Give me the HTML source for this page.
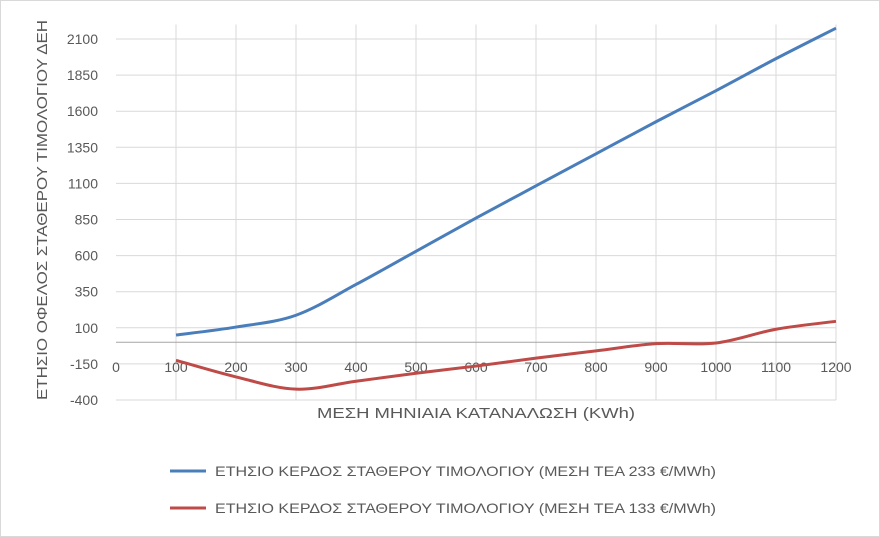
<!DOCTYPE html>
<html><head><meta charset="utf-8"><style>
body{margin:0;background:#fff}
svg{display:block;font-family:"Liberation Sans",sans-serif}
</style></head><body>
<svg id="chart" width="880" height="537">
<rect x="0.5" y="0.5" width="879" height="536" fill="#fff" stroke="#d9d9d9"/>
<g id="grid"></g><g id="axes"></g><g id="series"></g>
<text x="476" y="418" font-size="15" fill="#595959" text-anchor="middle" textLength="318" lengthAdjust="spacingAndGlyphs">ΜΕΣΗ ΜΗΝΙΑΙΑ ΚΑΤΑΝΑΛΩΣΗ (KWh)</text>
<text transform="translate(47,210) rotate(-90)" font-size="15" fill="#595959" text-anchor="middle" textLength="380" lengthAdjust="spacingAndGlyphs">ΕΤΗΣΙΟ ΟΦΕΛΟΣ ΣΤΑΘΕΡΟΥ ΤΙΜΟΛΟΓΙΟΥ ΔΕΗ</text>
<g>
<line x1="170" y1="471" x2="206" y2="471" stroke="#4a7ebb" stroke-width="3"/>
<text x="215" y="476" font-size="14" fill="#595959" textLength="501" lengthAdjust="spacingAndGlyphs">ΕΤΗΣΙΟ ΚΕΡΔΟΣ ΣΤΑΘΕΡΟΥ ΤΙΜΟΛΟΓΙΟΥ (ΜΕΣΗ ΤΕΑ 233 €/MWh)</text>
<line x1="170" y1="508" x2="206" y2="508" stroke="#be4b48" stroke-width="3"/>
<text x="215" y="513" font-size="14" fill="#595959" textLength="501" lengthAdjust="spacingAndGlyphs">ΕΤΗΣΙΟ ΚΕΡΔΟΣ ΣΤΑΘΕΡΟΥ ΤΙΜΟΛΟΓΙΟΥ (ΜΕΣΗ ΤΕΑ 133 €/MWh)</text>
</g>
</svg>
<script>
const categories=[100,200,300,400,500,600,700,800,900,1000,1100,1200];
const seriesHigh=[50,105,187,400,630,860,1083,1305,1527,1742,1964,2175];
const seriesLow=[-125,-240,-325,-270,-215,-165,-110,-60,-10,-5,90,145];
const yTicks=[2100,1850,1600,1350,1100,850,600,350,100,-150,-400];
const xTicks=[0,100,200,300,400,500,600,700,800,900,1000,1100,1200];
const NS="http://www.w3.org/2000/svg";
const xS=v=>116+v*(836-116)/1200;
const yS=v=>39+(2100-v)*(400-39)/2500;
function mk(tag,attrs,parent){const e=document.createElementNS(NS,tag);for(const k in attrs)e.setAttribute(k,attrs[k]);parent.appendChild(e);return e;}
const grid=document.getElementById('grid'),axes=document.getElementById('axes'),ser=document.getElementById('series');
yTicks.forEach(t=>{
 const l=mk('line',{x1:116,x2:836,y1:yS(t),y2:yS(t),stroke:'#d9d9d9'},grid);
 
 
 const tx=mk('text',{x:98,y:yS(t)+5,'font-size':14,fill:'#595959','text-anchor':'end'},axes);
 tx.textContent=t;
 
 
});
xTicks.forEach(t=>{
 if(t>0){const l=mk('line',{x1:xS(t),x2:xS(t),y1:yS(2200),y2:yS(-400),stroke:'#d9d9d9'},grid);
 
 }
 const tx=mk('text',{x:xS(t),y:yS(0)+30,'font-size':14,fill:'#595959','text-anchor':'middle'},axes);
 tx.textContent=t;
 
 
});
const zl=mk('line',{x1:116,x2:836,y1:yS(0),y2:yS(0),stroke:'#a6a6a6'},axes);


function smooth(vals){
 const p=categories.map((c,i)=>[xS(c),yS(vals[i])]);
 let d='M'+p[0][0]+','+p[0][1];
 for(let i=0;i<p.length-1;i++){
  const p0=p[i-1]||p[i],p1=p[i],p2=p[i+1],p3=p[i+2]||p2;
  const c1=[p1[0]+(p2[0]-p0[0])/6,p1[1]+(p2[1]-p0[1])/6];
  const c2=[p2[0]-(p3[0]-p1[0])/6,p2[1]-(p3[1]-p1[1])/6];
  d+=' C'+c1+' '+c2+' '+p2;
 }
 return d;
}
const a=mk('path',{d:smooth(seriesHigh),fill:'none',stroke:'#4a7ebb','stroke-width':3},ser);


const b=mk('path',{d:smooth(seriesLow),fill:'none',stroke:'#be4b48','stroke-width':3},ser);


</script>
</body></html>
